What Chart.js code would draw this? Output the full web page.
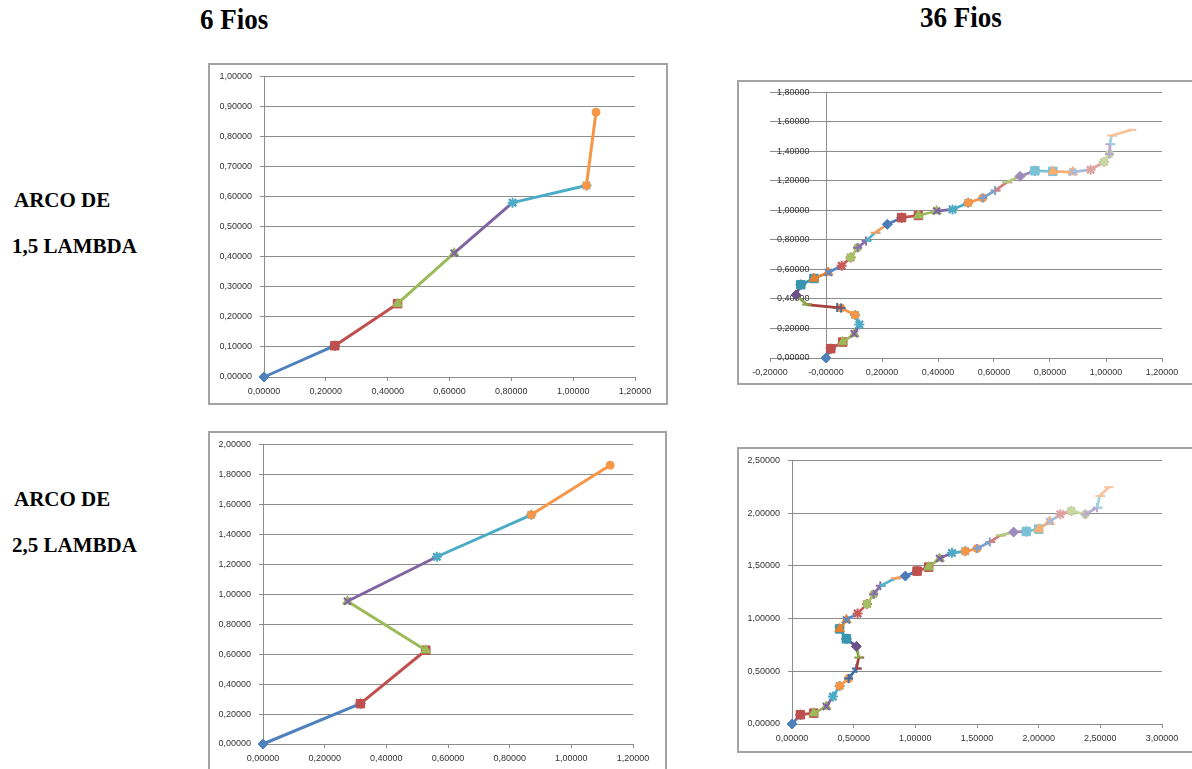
<!DOCTYPE html>
<html lang="pt">
<head>
<meta charset="UTF-8">
<title>Arco de 1,5 e 2,5 lambda - 6 e 36 fios</title>
<script src="https://cdn.jsdelivr.net/npm/chart.js@4"></script>
<style>
    html, body { margin: 0; padding: 0; background: #fff; }
    body { width: 1192px; height: 769px; position: relative; overflow: hidden; }
    .titulo {
        position: absolute;
        font-family: "Liberation Serif", "Times New Roman", serif;
        font-weight: bold;
        color: #000;
        white-space: nowrap;
        line-height: 1;
    }
    .coluna { font-size: 30px; transform-origin: left top; transform: scaleX(0.9); }
    .linha { font-size: 21px; }
    .grafico { position: absolute; }
    .moldura { position: absolute; border: 2px solid #a3a3a3; box-sizing: border-box; pointer-events: none; }
</style>
</head>
<body>
    <!-- titulos das colunas e das linhas -->
    <div class="titulo coluna" id="col0" style="left:200px; top:4px;"></div>
    <div class="titulo coluna" id="col1" style="left:920px; top:2px;"></div>
    <div class="titulo linha" id="lin0a" style="left:14px; top:190px;"></div>
    <div class="titulo linha" id="lin0b" style="left:12px; top:236px;"></div>
    <div class="titulo linha" id="lin1a" style="left:14px; top:489px;"></div>
    <div class="titulo linha" id="lin1b" style="left:12px; top:535px;"></div>

    <!-- graficos -->
    <canvas class="grafico" id="g1" width="460" height="342" style="left:208px; top:63px;"></canvas>
    <div class="moldura" style="left:208px; top:63px; width:460px; height:342px;"></div>

    <canvas class="grafico" id="g2" width="455" height="305" style="left:737px; top:80px;"></canvas>
    <div class="moldura" style="left:737px; top:80px; width:460px; height:305px;"></div>

    <canvas class="grafico" id="g3" width="459" height="345" style="left:208px; top:431px;"></canvas>
    <div class="moldura" style="left:208px; top:431px; width:459px; height:360px;"></div>

    <canvas class="grafico" id="g4" width="455" height="306" style="left:737px; top:447px;"></canvas>
    <div class="moldura" style="left:737px; top:447px; width:460px; height:306px;"></div>

<script>
    // Titulos
    const titulosColunas = ['6 Fios', '36 Fios'];
    const titulosLinhas = [['ARCO DE', '1,5 LAMBDA'], ['ARCO DE', '2,5 LAMBDA']];

    // 6 fios - arco de 1,5 lambda
    const x6Arco15 = [0, 0.229, 0.432, 0.615, 0.804, 1.043, 1.074];
    const y6Arco15 = [0, 0.104, 0.244, 0.412, 0.580, 0.637, 0.881];

    // 36 fios - arco de 1,5 lambda
    const x36Arco15 = [0, 0.017, 0.060, 0.101, 0.119, 0.104, 0.054, 0.040, -0.069, -0.107, -0.090, -0.043,
        0.008, 0.056, 0.088, 0.113, 0.143, 0.175, 0.219, 0.270, 0.330, 0.395, 0.452, 0.508,
        0.560, 0.604, 0.645, 0.693, 0.746, 0.810, 0.881, 0.945, 0.993, 1.012, 1.014, 1.020, 1.092];
    const y36Arco15 = [0, 0.063, 0.108, 0.164, 0.227, 0.292, 0.339, 0.342, 0.362, 0.427, 0.497, 0.539,
        0.580, 0.625, 0.681, 0.748, 0.793, 0.849, 0.906, 0.951, 0.966, 0.996, 1.007, 1.052,
        1.085, 1.135, 1.191, 1.231, 1.269, 1.265, 1.260, 1.276, 1.328, 1.382, 1.449, 1.508, 1.546];

    // 6 fios - arco de 2,5 lambda
    const x6Arco25 = [0, 0.316, 0.528, 0.274, 0.564, 0.870, 1.126];
    const y6Arco25 = [0, 0.269, 0.626, 0.953, 1.250, 1.530, 1.861];

    // 36 fios - arco de 2,5 lambda
    const x36Arco25 = [0, 0.068, 0.176, 0.278, 0.332, 0.386, 0.459, 0.522, 0.541, 0.522, 0.441, 0.386,
        0.441, 0.532, 0.608, 0.662, 0.716, 0.838, 0.919, 1.014, 1.108, 1.197, 1.297, 1.405,
        1.500, 1.603, 1.689, 1.797, 1.900, 2.000, 2.089, 2.176, 2.265, 2.378, 2.473, 2.495, 2.568];
    const y36Arco25 = [0, 0.088, 0.103, 0.166, 0.260, 0.360, 0.432, 0.526, 0.630, 0.736, 0.808, 0.902,
        0.987, 1.049, 1.137, 1.231, 1.310, 1.382, 1.403, 1.450, 1.488, 1.570, 1.623, 1.638,
        1.664, 1.726, 1.789, 1.820, 1.826, 1.848, 1.920, 1.989, 2.021, 1.989, 2.052, 2.162, 2.246];

    // Eixos: [min, max, passo]
    const eixoX6 = [0, 1.2, 0.2];
    const eixoY6Arco15 = [0, 1.0, 0.1];
    const eixoY6Arco25 = [0, 2.0, 0.2];
    const eixoX36Arco15 = [-0.2, 1.2, 0.2];
    const eixoY36Arco15 = [0, 1.8, 0.2];
    const eixoX36Arco25 = [0, 3.0, 0.5];
    const eixoY36Arco25 = [0, 2.5, 0.5];

    // cores das series (estilo Excel), uma por trecho
    const cores = [
        '#4F81BD', '#C0504D', '#9BBB59', '#8064A2', '#4BACC6', '#F79646',
        '#3F6FA8', '#A5413E', '#86A447', '#6A518C', '#3796B0', '#E47F2E',
        '#5A8AC6', '#C95A57', '#A4C264', '#8A70AB', '#56B4CD', '#F79E5C',
        '#4A7CBA', '#C0504D', '#9BBB59', '#8064A2', '#4BACC6', '#F79646',
        '#7E9FCF', '#D07F7D', '#B0CA7E', '#9E8BBB', '#7AC3D7', '#F9AE72',
        '#A9BCDC', '#DFA3A1', '#C6D9A0', '#B9A9CF', '#9FD1E0', '#FAC39C'
    ];
    const marcadores = ['rectRot', 'rect', 'triangle', 'crossRot', 'star', 'circle', 'cross', 'dash', 'line'];
    const raios = { rectRot: 5, rect: 6, triangle: 5.5, crossRot: 5, star: 5, circle: 4, cross: 4.5, dash: 5.5, line: 4.5 };

    const cinza = '#8c8c8c';
    const fonteEixo = { family: '"Liberation Sans", Arial, sans-serif', size: 9 };

    function formatar(v) {
        return v.toFixed(5).replace('.', ',');
    }

    // Cada trecho entre dois pontos vira uma serie (como no Excel)
    function montarSeries(xs, ys, espessura) {
        const series = [];
        const n = xs.length - 1;
        for (let k = 0; k < n; k++) {
            const cor = cores[k % cores.length];
            const marca = marcadores[k % marcadores.length];
            const vazado = (marca === 'crossRot' || marca === 'star' || marca === 'cross' || marca === 'dash' || marca === 'line');
            series.push({
                data: [{ x: xs[k], y: ys[k] }, { x: xs[k + 1], y: ys[k + 1] }],
                showLine: true,
                borderColor: cor,
                backgroundColor: cor,
                borderWidth: espessura,
                pointStyle: marca,
                pointRadius: raios[marca],
                pointBorderWidth: vazado ? 2 : 1,
                pointBackgroundColor: cor,
                pointBorderColor: cor,
                clip: false,
                order: n - k
            });
        }
        return series;
    }

    function criarGrafico(id, xs, ys, eixoX, eixoY, layout) {
        const ctx = document.getElementById(id).getContext('2d');
        const eixoNoZero = layout.eixoNoZero;
        return new Chart(ctx, {
            type: 'scatter',
            data: { datasets: montarSeries(xs, ys, layout.espessura) },
            options: {
                responsive: false,
                animation: false,
                layout: { padding: { top: layout.topo, right: layout.direita, left: 0, bottom: 0 } },
                plugins: { legend: { display: false }, tooltip: { enabled: false } },
                scales: {
                    x: {
                        type: 'linear',
                        min: eixoX[0],
                        max: eixoX[1],
                        ticks: {
                            stepSize: eixoX[2],
                            callback: formatar,
                            font: fonteEixo,
                            color: '#333333',
                            padding: 5,
                            maxRotation: 0,
                            autoSkip: false
                        },
                        grid: {
                            drawOnChartArea: eixoNoZero,
                            color: (c) => (c.tick && Math.abs(c.tick.value) < 1e-9) ? cinza : 'rgba(0,0,0,0)',
                            tickColor: cinza,
                            tickLength: 4
                        },
                        border: { display: true, color: cinza, width: 1 },
                        afterFit: (s) => { s.height = layout.alturaX; }
                    },
                    y: {
                        type: 'linear',
                        min: eixoY[0],
                        max: eixoY[1],
                        ticks: {
                            stepSize: eixoY[2],
                            callback: formatar,
                            font: fonteEixo,
                            color: '#333333',
                            mirror: eixoNoZero,
                            padding: eixoNoZero ? 7 : 8,
                            autoSkip: false
                        },
                        grid: {
                            color: cinza,
                            tickColor: cinza,
                            tickLength: 4,
                            drawTicks: !eixoNoZero
                        },
                        border: { display: !eixoNoZero, color: cinza, width: 1 },
                        afterFit: (s) => { s.width = layout.larguraY; }
                    }
                }
            }
        });
    }

    window.onload = function () {
        document.getElementById('col0').textContent = titulosColunas[0];
        document.getElementById('col1').textContent = titulosColunas[1];
        document.getElementById('lin0a').textContent = titulosLinhas[0][0];
        document.getElementById('lin0b').textContent = titulosLinhas[0][1];
        document.getElementById('lin1a').textContent = titulosLinhas[1][0];
        document.getElementById('lin1b').textContent = titulosLinhas[1][1];

        criarGrafico('g1', x6Arco15, y6Arco15, eixoX6, eixoY6Arco15,
            { topo: 12, direita: 33, larguraY: 56, alturaX: 28, eixoNoZero: false, espessura: 3 });
        criarGrafico('g2', x36Arco15, y36Arco15, eixoX36Arco15, eixoY36Arco15,
            { topo: 11, direita: 30, larguraY: 33, alturaX: 27, eixoNoZero: true, espessura: 2.75 });
        criarGrafico('g3', x6Arco25, y6Arco25, eixoX6, eixoY6Arco25,
            { topo: 11, direita: 34, larguraY: 55, alturaX: 32, eixoNoZero: false, espessura: 3 });
        criarGrafico('g4', x36Arco25, y36Arco25, eixoX36Arco25, eixoY36Arco25,
            { topo: 11, direita: 30, larguraY: 55, alturaX: 29, eixoNoZero: false, espessura: 2.75 });
    };
</script>
</body>
</html>
